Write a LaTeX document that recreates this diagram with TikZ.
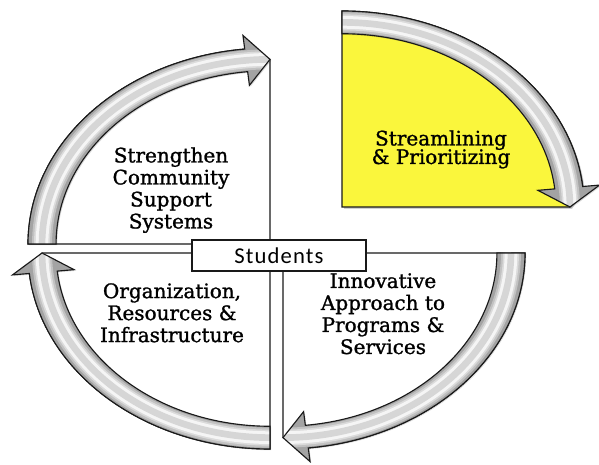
\documentclass[tikz,border=0pt]{standalone}
\usepackage{fontspec}
\usetikzlibrary{shadows}
\setmainfont[FakeBold=1.2]{DejaVu Serif}
\newfontfamily\boxfont[LetterSpace=5]{Carlito}
\definecolor{quadyellow}{RGB}{250,246,60}

% quarter of the cycle, drawn on a unit circle and stretched by the scope
\tikzset{
  band/.style={insert path={(#1:1) arc[start angle=#1, end angle={#1-84}, radius=1]
    -- ({#1-84}:1.07) -- ({#1-90}:0.942) -- ({#1-84}:0.814)
    -- ({#1-84}:0.884) arc[start angle={#1-84}, end angle=#1, radius=0.884] -- cycle}},
  sector/.style={insert path={(0,0) -- (#1:1) arc[start angle=#1, end angle={#1-84}, radius=1]
    -- ({#1-90}:0.942) -- cycle}}
}

\begin{document}
\begin{tikzpicture}[
  x=0.75pt, y=0.75pt,
  edge/.style={line width=0.85pt, draw=black!90},
  quadtext/.style={align=center, inner sep=0pt, anchor=north, font=\fontsize{15}{16.5}\selectfont},
  studentbox/.style={edge, fill=white, minimum width=130.5pt, minimum height=23.25pt, inner sep=0pt,
    font=\boxfont\fontsize{17}{20}\selectfont,
    drop shadow={shadow xshift=1pt, shadow yshift=-1pt, opacity=0.2}}
]
\useasboundingbox (0,0) rectangle (599,464);

% sectors behind the bands
\begin{scope}[shift={(344,255)}, xscale=242, yscale=196]
  \fill[black, opacity=0.18, sector=90];
\end{scope}
\foreach \cx/\cy/\ta/\fc in {270/220/180/white, 342/257/90/quadyellow, 283/211/0/white, 270/211/-90/white}{
  \begin{scope}[shift={(\cx,\cy)}, xscale=242, yscale=196]
    \filldraw[edge, fill=\fc, sector=\ta];
  \end{scope}
}

% curved arrows, clockwise
\foreach \cx/\cy/\ta in {270/220/180, 342/257/90, 283/211/0, 270/211/-90}{
  \begin{scope}[shift={(\cx+1.2,\cy-1.2)}, xscale=242, yscale=196]
    \fill[black, opacity=0.15, band=\ta];
  \end{scope}
  \begin{scope}[shift={(\cx,\cy)}, xscale=242, yscale=196]
    \begin{scope}
      \clip[band=\ta];
      \fill[black!36, band=\ta];
      \foreach \w/\k in {15/24, 12/14, 9.5/4, 5/16}
        \draw[line width=\w pt, black!\k] (\ta:0.942) arc[start angle=\ta, end angle=\ta-90, radius=0.942];
    \end{scope}
    \draw[edge, band=\ta];
  \end{scope}
}

% centre box
\node[studentbox] (students) at (279,208.5) {Students};

% quadrant texts
\node[quadtext] (strengthen) at (171,317) {Strengthen\\Community\\Support\\Systems};
\node[quadtext] (streamline) at (441,334) {Streamlining\\[-2.6pt]\& Prioritizing};
\node[quadtext] (organize) at (172,181) {Organization,\\Resources \&\\Infrastructure};
\node[quadtext] (innovate) at (383,191) {Innovative\\Approach to\\Programs \&\\Services};
\end{tikzpicture}
\end{document}
